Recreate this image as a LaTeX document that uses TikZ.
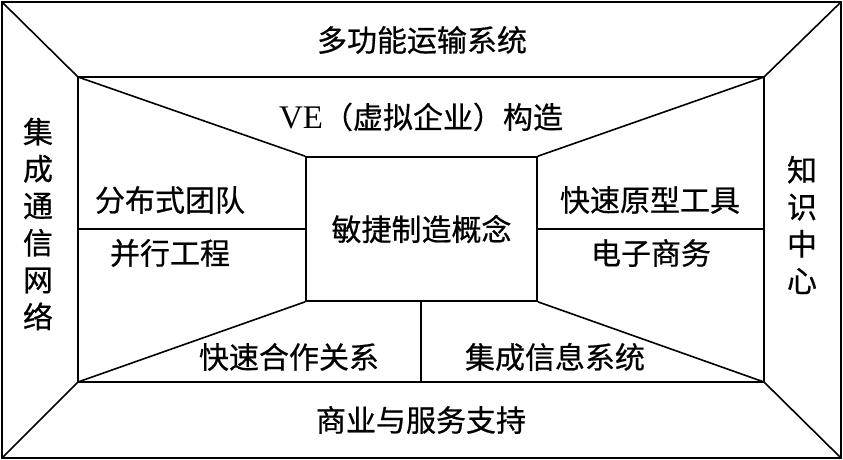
\documentclass[tikz,border=0pt]{standalone}
\usepackage{fontspec}
\newfontfamily\cjk[FakeBold=0.6]{Noto Sans CJK SC}
\newfontfamily\lat{Liberation Serif}
\begin{document}
\begin{tikzpicture}[x=1pt,y=-1pt,
  frame/.style={line width=1.6pt},
  lbl/.style={font=\cjk\fontsize{30}{37}\selectfont, inner sep=0pt, align=center}]
\useasboundingbox (0,0) rectangle (843,460);
% corners
\coordinate (o1) at (2,2);
\coordinate (o2) at (841,2);
\coordinate (o3) at (841,458);
\coordinate (o4) at (2,458);
\coordinate (i1) at (78,77);
\coordinate (i2) at (764,77);
\coordinate (i3) at (764,382);
\coordinate (i4) at (78,382);
\coordinate (hl) at (78,229);
\coordinate (hr) at (764,229);
\coordinate (vb) at (421,382);
\node[draw, frame, minimum width=231pt, minimum height=144pt, inner sep=0pt] (c) at (421.5,229) {};
\node[lbl] (ct) at (c.center) {敏捷制造概念};
\draw[frame] (o1) rectangle (o3);
\draw[frame] (i1) rectangle (i3);
\draw[frame] (o1) -- (i1) (o2) -- (i2) (o3) -- (i3) (o4) -- (i4);
\draw[frame] (i1) -- (c.north west) (i2) -- (c.north east) (i3) -- (c.south east) (i4) -- (c.south west);
\draw[frame] (hl) -- (c.west) (hr) -- (c.east);
\draw[frame] (c.south -| vb) -- (vb);
% labels
\node[lbl] (t1) at (422,40) {多功能运输系统};
\node[lbl] (t2) at (421,117) {{\lat\fontsize{33}{37}\selectfont VE}（虚拟企业）构造};
\node[lbl] (t3) at (170,200) {分布式团队};
\node[lbl] (t4) at (170,253) {并行工程};
\node[lbl] (t5) at (650,200) {快速原型工具};
\node[lbl] (t6) at (651,253) {电子商务};
\node[lbl] (t7) at (289,357) {快速合作关系};
\node[lbl] (t8) at (555,357) {集成信息系统};
\node[lbl] (t9) at (421,420) {商业与服务支持};
\node[lbl] (tl) at (38,224) {集\\成\\通\\信\\网\\络};
\node[lbl] (tr) at (802,225) {知\\识\\中\\心};
\end{tikzpicture}
\end{document}
